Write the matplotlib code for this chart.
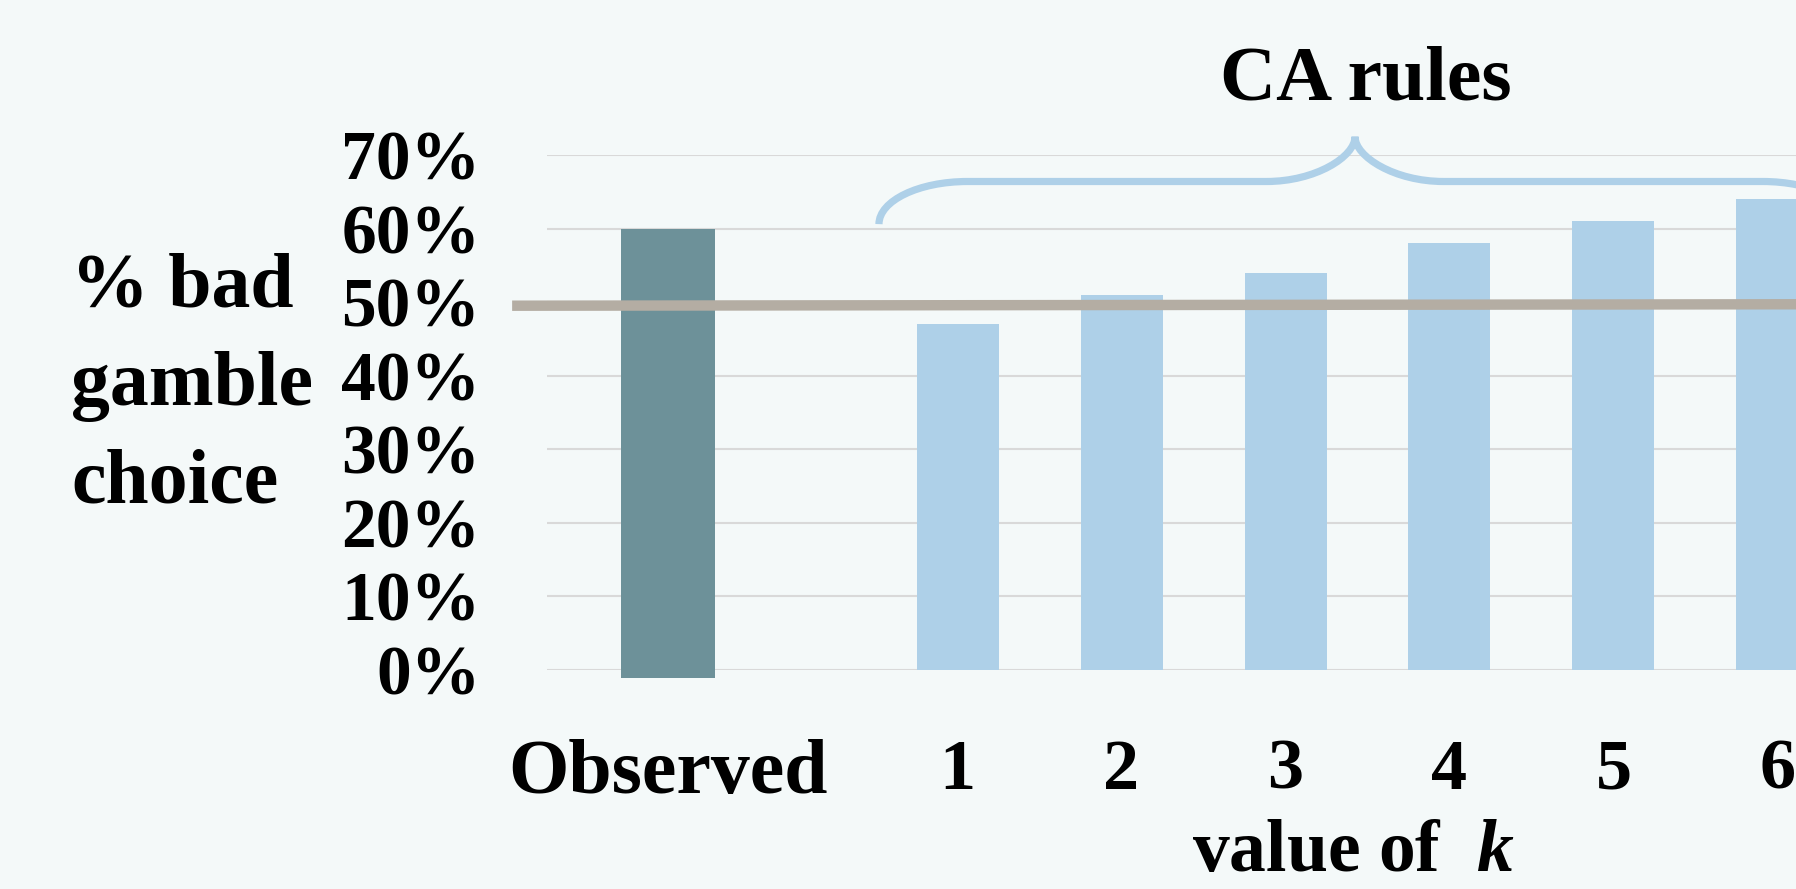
import numpy as np
import matplotlib.pyplot as plt
from matplotlib.path import Path
from matplotlib.patches import PathPatch
from matplotlib.ticker import PercentFormatter

# data
observed_label = "Observed"
observed_value = 0.60
k_values = ["1", "2", "3", "4", "5", "6"]
ca_values = [0.47, 0.51, 0.54, 0.58, 0.61, 0.64]
chance_line = [0.495, 0.497]  # grey line, drawn slightly tilted
y_ticks = [0.0, 0.1, 0.2, 0.3, 0.4, 0.5, 0.6, 0.7]

# colours
BG = "#F4F9F9"
OBS_COLOR = "#6D9199"
CA_COLOR = "#AED0E8"
LINE_COLOR = "#B4ADA3"
GRID_COLOR = "#D9D9D9"

FONT = "Liberation Serif"
plt.rcParams["font.family"] = [FONT, "DejaVu Serif"]
plt.rcParams["font.weight"] = "bold"
plt.rcParams["mathtext.fontset"] = "custom"
plt.rcParams["mathtext.rm"] = "Liberation Serif:bold"
plt.rcParams["mathtext.it"] = "Liberation Serif:italic:bold"

fig = plt.figure(figsize=(17.96, 8.89), dpi=100, facecolor=BG)
ax = fig.add_axes([0.3046, 0.2469, 0.6954, 0.5787], facecolor=BG)

# bar positions (k = 1..6), observed bar sits further left and is a bit wider
k_pos = np.arange(1, len(k_values) + 1)
obs_pos = -0.765

ax.bar(k_pos, ca_values, width=0.5, color=CA_COLOR, zorder=2)
ax.bar([obs_pos], [observed_value + 0.011], bottom=-0.011, width=0.573,
       color=OBS_COLOR, zorder=2, clip_on=False)

# the 50% reference line
ax.plot([-1.716, 6.3], chance_line, color=LINE_COLOR, lw=7.5,
        solid_capstyle="butt", zorder=3, clip_on=False)

ax.set_xlim(-1.503, 6.113)
ax.set_ylim(0, 0.7)

ax.set_yticks(y_ticks)
ax.yaxis.set_major_formatter(PercentFormatter(1.0, decimals=0))
ax.yaxis.grid(True, color=GRID_COLOR, lw=1.5, zorder=0)
ax.set_axisbelow(True)
for s in ax.spines.values():
    s.set_visible(False)
ax.tick_params(axis="y", length=0, pad=48, labelsize=50)
ax.tick_params(axis="x", length=0, pad=50, labelsize=52)
ax.set_xticks([obs_pos] + list(k_pos))
ax.set_xticklabels([observed_label] + k_values)
for lbl in ax.get_xticklabels() + ax.get_yticklabels():
    lbl.set_fontweight("bold")
ax.get_xticklabels()[0].set_fontsize(56)

# curly brace over the CA bars
x0, x1, xt = 0.521, 6.45, 3.424
y0, yh, ytip = 0.606, 0.664, 0.725
dx = 0.54
c = 0.55
verts = [
    (x0, y0), (x0, y0 + c * (yh - y0)), (x0 + dx * (1 - c), yh), (x0 + dx, yh),
    (xt - dx, yh),
    (xt - dx * (1 - c), yh), (xt, yh + c * (ytip - yh)), (xt, ytip),
    (xt, yh + c * (ytip - yh)), (xt + dx * (1 - c), yh), (xt + dx, yh),
    (x1 - dx, yh),
    (x1 - dx * (1 - c), yh), (x1, y0 + c * (yh - y0)), (x1, y0),
]
codes = [Path.MOVETO, Path.CURVE4, Path.CURVE4, Path.CURVE4,
         Path.LINETO,
         Path.CURVE4, Path.CURVE4, Path.CURVE4,
         Path.CURVE4, Path.CURVE4, Path.CURVE4,
         Path.LINETO,
         Path.CURVE4, Path.CURVE4, Path.CURVE4]
brace = PathPatch(Path(verts, codes), facecolor="none", edgecolor=CA_COLOR,
                  lw=5.2, clip_on=False, zorder=3)
ax.add_patch(brace)

# texts
fig.text(1366 / 1796, 1 - 100 / 889, "CA rules", ha="center", va="baseline",
         fontsize=56, fontweight="bold")
fig.text(71 / 1796, 1 - 386 / 889, "% bad\ngamble\nchoice", ha="left",
         va="center", fontsize=56, fontweight="bold", linespacing=1.5)
fig.text(1353 / 1796, 1 - 871 / 889, r"value of  $k$", ha="center",
         va="baseline", fontsize=53, fontweight="bold")

fig.savefig("out.png", dpi=100, facecolor=BG)
